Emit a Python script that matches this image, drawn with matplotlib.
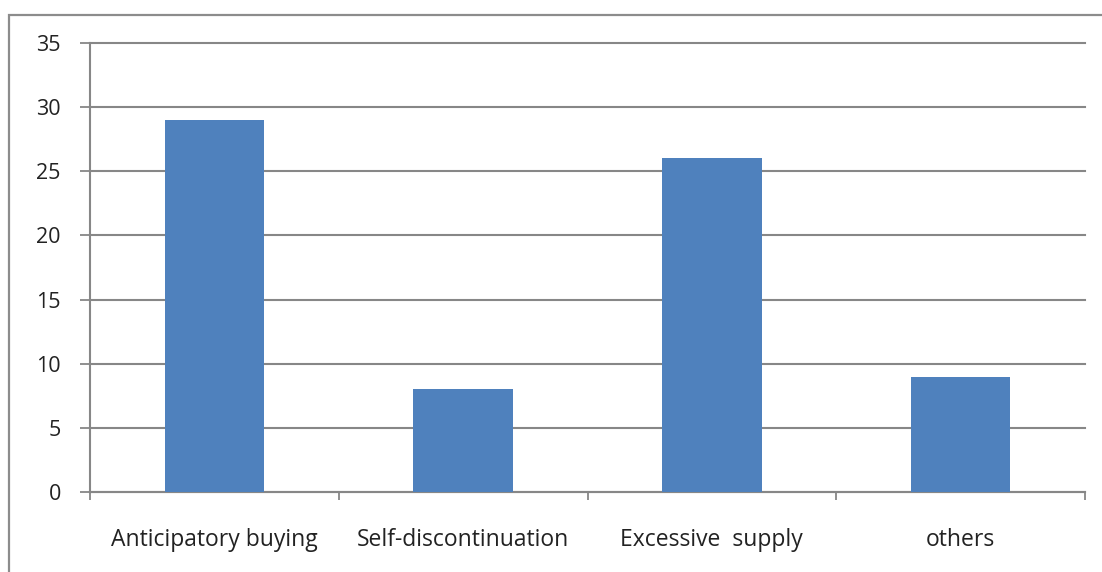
import numpy as np
import matplotlib.pyplot as plt
from matplotlib.patches import Rectangle

categories = ["Anticipatory buying", "Self-discontinuation", "Excessive  supply", "others"]
values = [29, 8, 26, 9]
y_ticks = [0, 5, 10, 15, 20, 25, 30, 35]

plt.rcParams['font.family'] = ['Open Sans', 'DejaVu Sans']

fig = plt.figure(figsize=(11.02, 5.72), dpi=100)
fig.patch.set_facecolor('white')

# outer chart frame (only left and top edges visible in the picture)
fig.patches.append(Rectangle((9 / 1102, -0.5), 1.5, 0.5 + (1 - 15 / 572),
                             transform=fig.transFigure, fill=False,
                             edgecolor='#8c8c8c', linewidth=1.6))

ax = fig.add_axes([90 / 1102, 1 - 492 / 572, (1085 - 90) / 1102, (492 - 43) / 572])

x = np.arange(len(categories))
ax.bar(x, values, width=0.4, color='#4f81bd', zorder=3)

ax.set_xlim(-0.5, len(categories) - 0.5)
ax.set_ylim(0, 35)
ax.set_yticks(y_ticks)
ax.yaxis.grid(True, color='#878787', linewidth=1.5, zorder=0)
for gl in ax.get_ygridlines():
    gl.set_clip_on(False)

ax.set_xticks(np.arange(len(categories) + 1) - 0.5, minor=False)
ax.set_xticklabels([])
ax.set_xticks(x, minor=True)
ax.set_xticklabels(categories, minor=True)
ax.tick_params(axis='x', which='minor', length=0, pad=26, labelsize=16.5, labelcolor='#222222')
ax.tick_params(axis='x', which='major', length=6, width=1.3, color='#878787', direction='out')
ax.tick_params(axis='y', length=7, width=1.3, color='#878787', labelsize=15.5,
               labelcolor='#222222', pad=14)

for side in ['top', 'right']:
    ax.spines[side].set_visible(False)
for side in ['left', 'bottom']:
    ax.spines[side].set_color('#878787')
    ax.spines[side].set_linewidth(1.5)

fig.savefig('out.png', dpi=100)
